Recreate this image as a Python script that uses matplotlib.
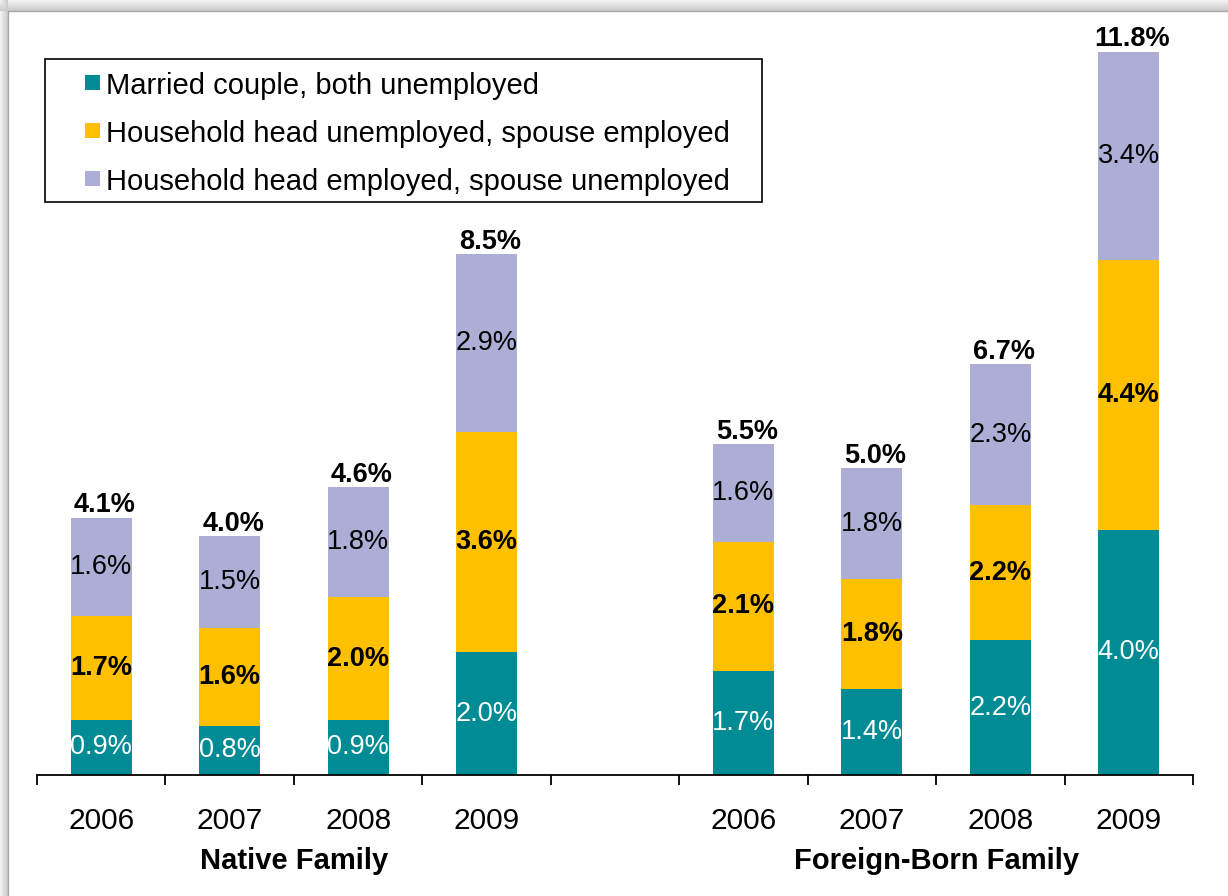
import numpy as np
import matplotlib
matplotlib.use("Agg")
import matplotlib.pyplot as plt
from matplotlib.patches import Rectangle

plt.rcParams['font.family'] = ['Liberation Sans', 'DejaVu Sans']

# Categories: four native years, an empty spacer slot, four foreign-born years
years = ["2006", "2007", "2008", "2009", "", "2006", "2007", "2008", "2009"]
groups = ["Native Family", "Foreign-Born Family"]
series_names = ["Married couple, both unemployed",
                "Household head unemployed, spouse employed",
                "Household head employed, spouse unemployed"]

both_unemployed = [0.9, 0.8, 0.9, 2.0, None, 1.7, 1.4, 2.2, 4.0]
head_unemployed = [1.7, 1.6, 2.0, 3.6, None, 2.1, 1.8, 2.2, 4.4]
spouse_unemployed = [1.6, 1.5, 1.8, 2.9, None, 1.6, 1.8, 2.3, 3.4]
totals = [4.1, 4.0, 4.6, 8.5, None, 5.5, 5.0, 6.7, 11.8]

colors = ["#008B95", "#FFC000", "#ADAED6"]
label_styles = [dict(color="white", fontweight="normal"),
                dict(color="black", fontweight="bold"),
                dict(color="black", fontweight="normal")]

W, H = 1228, 896
fig = plt.figure(figsize=(W / 100, H / 100), dpi=100)

# Page background with a soft drop shadow on the top and left edges
bg = fig.add_axes([0, 0, 1, 1], zorder=-10)
img = np.ones((H, W, 3))
xs = np.arange(W)
ys = np.arange(H)
left_edge, top_edge = 8, 11
sx = np.clip((left_edge - xs) / left_edge, 0, 1)
sy = np.clip((top_edge - ys) / top_edge, 0, 1)
shade_x = np.where(xs < left_edge, 0.78 + 0.17 * sx, 1.0)
shade_y = np.where(ys < top_edge, 0.78 + 0.17 * sy, 1.0)
shade = np.minimum(shade_x[None, :], shade_y[:, None])
img *= shade[:, :, None]
bg.imshow(img, extent=(0, W, H, 0), aspect="auto")
bg.plot([left_edge, left_edge], [top_edge, H], color="#A8A8A8", lw=1)
bg.plot([left_edge, W], [top_edge, top_edge], color="#A8A8A8", lw=1)

# Legend box drawn in page pixel coordinates
bg.add_patch(Rectangle((45, 59), 717, 143, facecolor="white",
                       edgecolor="black", lw=1.2, zorder=5))
for k, (name, c) in enumerate(zip(series_names, colors)):
    yc = 83 + 48 * k
    bg.add_patch(Rectangle((85, yc - 7.5), 15, 15, facecolor=c,
                           edgecolor="none", zorder=6))
    bg.text(106, yc, name, ha="left", va="center_baseline", fontsize=21,
            color="black", zorder=7)
bg.set_xlim(0, W)
bg.set_ylim(H, 0)
bg.axis("off")

# Main chart area: zero line at y=775 px, 61.3 px per percentage point
ymax = 12.5
ax_bottom = (H - 775) / H
ax_height = ymax * 61.3 / H
ax = fig.add_axes([37 / W, ax_bottom, (1193 - 37) / W, ax_height])
ax.set_xlim(-0.5, 8.5)
ax.set_ylim(0, ymax)
ax.patch.set_alpha(0)

bar_w = 0.475
xpos = np.arange(len(years))
for i in xpos:
    if totals[i] is None:
        continue
    base = 0.0
    for s, vals in enumerate([both_unemployed, head_unemployed, spouse_unemployed]):
        v = vals[i]
        ax.bar(i, v, bottom=base, width=bar_w, color=colors[s], linewidth=0)
        ax.text(i, base + v / 2, f"{v:.1f}%", ha="center", va="center",
                fontsize=19.5, **label_styles[s])
        base += v
    ax.annotate(f"{totals[i]:.1f}%", (i, base), xytext=(2.5, -0.5),
                textcoords="offset points", ha="center", va="bottom",
                fontsize=19.5, fontweight="bold", color="black")

for side in ["left", "right", "top"]:
    ax.spines[side].set_visible(False)
ax.spines["bottom"].set_linewidth(1.3)
ax.set_yticks([])
ax.set_xticks(np.arange(-0.5, 9.0, 1.0))
ax.set_xticklabels([])
ax.tick_params(axis="x", direction="out", length=7.5, width=1.3, color="black")

# Year labels and group labels beneath the axis
for i, y in enumerate(years):
    if y:
        ax.annotate(y, (i, 0), xytext=(0, -33), textcoords="offset points",
                    ha="center", va="center", fontsize=21.5, annotation_clip=False)
ax.annotate(groups[0], (1.5, 0), xytext=(0, -62), textcoords="offset points",
            ha="center", va="center", fontsize=21, fontweight="bold",
            annotation_clip=False)
ax.annotate(groups[1], (6.5, 0), xytext=(0, -62), textcoords="offset points",
            ha="center", va="center", fontsize=21, fontweight="bold",
            annotation_clip=False)

fig.savefig("out.png", dpi=100)
